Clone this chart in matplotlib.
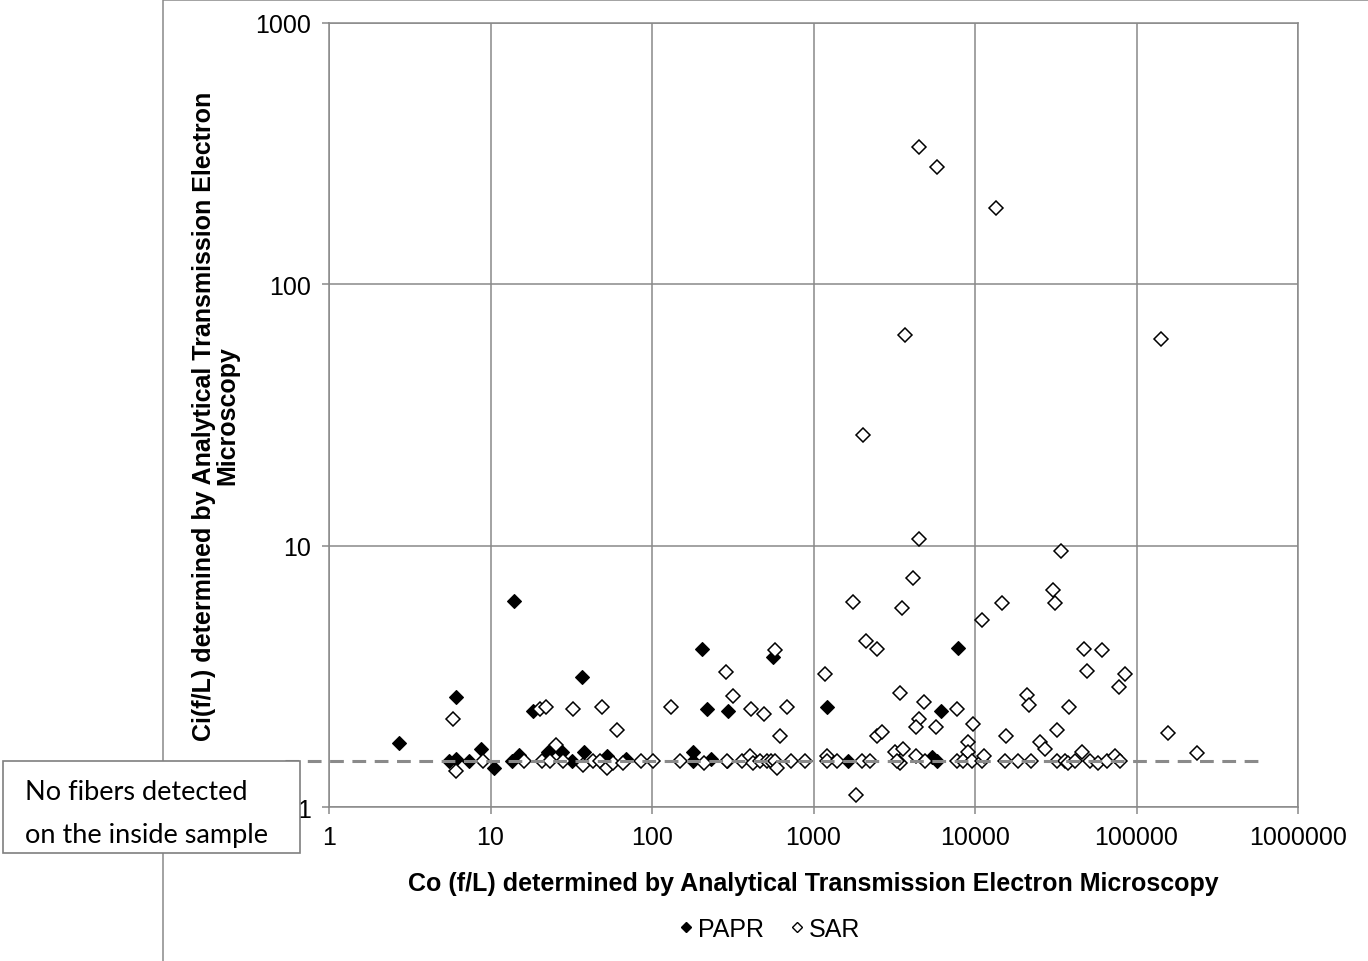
import numpy as np
import matplotlib
matplotlib.use('Agg')
import matplotlib.pyplot as plt
import matplotlib.transforms as mtransforms
from matplotlib.patches import Rectangle
from matplotlib.lines import Line2D
from matplotlib.ticker import FixedLocator, NullLocator

plt.rcParams['font.family'] = ['Liberation Sans', 'DejaVu Sans']

# PAPR (filled diamonds): Co, Ci in f/L
papr_co = [2.71, 6.15, 5.56, 6.11, 7.33, 8.69, 10.5, 13.9, 13.5, 15.1,
           18.4, 37.0, 22.8, 27.6, 31.8, 38.1, 52.7, 68.7, 205, 218,
           294, 564, 179, 180, 232, 290, 1215, 1643, 6135, 5395,
           5780, 7850]
papr_ci = [1.76, 2.63, 1.50, 1.53, 1.50, 1.67, 1.41, 6.16, 1.50, 1.58,
           2.32, 3.13, 1.62, 1.62, 1.50, 1.62, 1.57, 1.53, 4.02, 2.37,
           2.32, 3.76, 1.62, 1.50, 1.53, 1.50, 2.42, 1.50, 2.32, 1.55,
           1.50, 4.06]

# SAR (open diamonds)
sar_co = [5.83, 6.13, 9.03, 16.2, 20.3, 22.0, 32.6, 49.0, 60.4, 20.7,
          25.4, 23.4, 28.2, 37.5, 43.3, 47.6, 52.4, 57.6, 66.4, 85.5,
          102, 131, 149, 211, 287, 317, 290, 359, 404, 424,
          466, 513, 543, 578, 592, 575, 412, 496, 689, 618,
          722, 886, 1178, 1207, 1207, 1392, 1749, 1833, 1988, 2105,
          2473, 2239, 4130, 3532, 3450, 2480, 2656, 3197, 3600, 3433,
          3280, 4313, 4853, 4500, 4313, 4904, 5737, 7740, 9680, 9014,
          9014, 7700, 8465, 9540, 11000, 11420, 11000, 14760, 30540, 31280,
          20900, 21700, 38370, 32070, 15560, 25270, 27110, 47300, 61400, 49560,
          85270, 78260, 15350, 18540, 22130, 32070, 36070, 37830, 41600, 45730,
          51530, 58000, 65400, 73600, 79070, 156700, 237900, 4520, 5780, 13430,
          3686, 142400, 2034, 4481, 34080]
sar_ci = [2.17, 1.37, 1.50, 1.50, 2.37, 2.42, 2.37, 2.42, 1.97, 1.50,
          1.73, 1.50, 1.50, 1.45, 1.50, 1.50, 1.41, 1.47, 1.47, 1.50,
          1.50, 2.42, 1.50, 1.47, 3.28, 2.67, 1.50, 1.50, 1.57, 1.47,
          1.50, 1.50, 1.50, 1.50, 1.41, 3.98, 2.37, 2.27, 2.42, 1.87,
          1.50, 1.50, 3.23, 1.57, 1.50, 1.50, 6.07, 1.11, 1.50, 4.33,
          4.02, 1.50, 7.50, 5.77, 2.72, 1.87, 1.93, 1.62, 1.67, 1.47,
          1.50, 1.57, 2.53, 2.17, 2.02, 1.50, 2.03, 2.37, 2.07, 1.77,
          1.62, 1.50, 1.50, 1.50, 1.50, 1.57, 5.21, 6.04, 6.79, 6.04,
          2.68, 2.46, 2.42, 1.97, 1.87, 1.77, 1.66, 4.02, 3.98, 3.32,
          3.23, 2.87, 1.50, 1.50, 1.50, 1.50, 1.50, 1.47, 1.50, 1.62,
          1.50, 1.47, 1.50, 1.57, 1.50, 1.92, 1.61, 336.6, 282, 195.5,
          64.2, 61.8, 26.4, 10.6, 9.57]

# "no fibers detected" level
nd_level = 1.5

x_ticks = [1, 10, 100, 1000, 10000, 100000, 1000000]
y_ticks = [1, 10, 100, 1000]

fig = plt.figure(figsize=(13.68, 9.62), dpi=100)
ax = fig.add_axes([329/1368, 1 - 808/962, 969/1368, 784/962])

grid_c = '#898989'
ax.set_xscale('log')
ax.set_yscale('log')
ax.set_xlim(1, 1000000)
ax.set_ylim(1, 1000)
ax.xaxis.set_major_locator(FixedLocator(x_ticks))
ax.yaxis.set_major_locator(FixedLocator(y_ticks))
ax.xaxis.set_minor_locator(NullLocator())
ax.yaxis.set_minor_locator(NullLocator())
ax.set_xticklabels([str(t) for t in x_ticks])
ax.set_yticklabels([str(t) for t in y_ticks])
ax.grid(True, color=grid_c, linewidth=1.1)
ax.set_axisbelow(True)
for sp in ax.spines.values():
    sp.set_color(grid_c)
    sp.set_linewidth(1.1)
ax.tick_params(axis='both', length=5, width=1.1, color=grid_c,
               labelsize=18, pad=8)

ax.plot(papr_co, papr_ci, linestyle='none', marker='D', markersize=7.0,
        markerfacecolor='black', markeredgecolor='black', markeredgewidth=0.8,
        zorder=3)
ax.plot(sar_co, sar_ci, linestyle='none', marker='D', markersize=6.8,
        markerfacecolor='white', markeredgecolor='black', markeredgewidth=1.1,
        zorder=3)

ax.set_xlabel('Co (f/L) determined by Analytical Transmission Electron Microscopy',
              fontsize=18, fontweight='bold', labelpad=16)
ax.set_ylabel('Ci(f/L) determined by Analytical Transmission Electron\nMicroscopy',
              fontsize=18, fontweight='bold', labelpad=11, linespacing=1.0)

handles = [
    Line2D([], [], linestyle='none', marker='D', markersize=5.5,
           markerfacecolor='black', markeredgecolor='black'),
    Line2D([], [], linestyle='none', marker='D', markersize=5.5,
           markerfacecolor='white', markeredgecolor='black', markeredgewidth=1.0),
]
fig.legend(handles, ['PAPR', 'SAR'], loc='center', ncol=2,
           bbox_to_anchor=(768/1368, 1 - 930/962), frameon=False,
           fontsize=18, handlelength=0.8, handletextpad=0.1, columnspacing=0.9)

# outer chart frame
fig.patches.append(Rectangle((163/1368, -0.01), 1.0, 1.0 - 1/962 + 0.01,
                             transform=fig.transFigure, fill=False,
                             edgecolor=grid_c, linewidth=1.1, zorder=0))

# dashed "not detected" line: x in figure fraction, y in data units
trans = mtransforms.blended_transform_factory(fig.transFigure, ax.transData)
fig.add_artist(Line2D([285/1368, 1265/1368], [nd_level, nd_level],
                      transform=trans, color='#8a8a8a', linewidth=2.2,
                      linestyle=(0, (4.5, 2.8)), zorder=4))

# annotation box
fig.patches.append(Rectangle((3/1368, 1 - 854/962), 297/1368, 92/962,
                             transform=fig.transFigure, facecolor='white',
                             edgecolor='#7f7f7f', linewidth=1.2, zorder=10))
fig.text(25/1368, 1 - 814/962, 'No fibers detected\non the inside sample',
         family=['Lato', 'DejaVu Sans'], fontsize=19.5, va='center', ha='left',
         linespacing=1.9, zorder=11)

fig.savefig('out.png', dpi=100)
